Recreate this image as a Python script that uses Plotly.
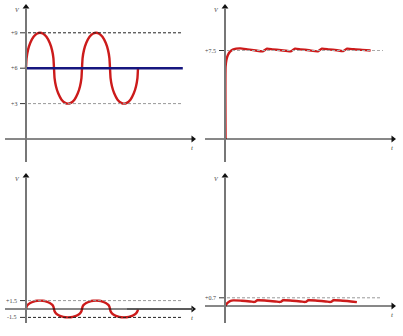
import plotly.graph_objects as go

W, H = 403, 336

# ---- data ----
# one half-cycle arc profile (fraction of half period, fraction of amplitude)
arc_frac = [0, 0.02, 0.07, 0.15, 0.27, 0.4, 0.5, 0.6, 0.73, 0.85, 0.93, 0.98, 1.0]
arc_height = [0, 0.28, 0.51, 0.71, 0.89, 0.98, 1.0, 0.98, 0.89, 0.71, 0.51, 0.28, 0]
arc_signs = [1, -1, 1, -1]

p1_offset, p1_amp = 6.0, 3.0
p1_dc = 6.0
p1_dc_end = 5.6
p1_levels = [9, 6, 3]
p1_labels = ["+9", "+6", "+3"]

p2_t = [0.02, 0.02, 0.05, 0.1, 0.18, 0.28, 0.4, 0.55, 0.8, 1.1, 1.35, 1.5, 1.7, 2.0, 2.35, 2.5,
        2.7, 3.0, 3.32, 3.46, 3.7, 4.0, 4.22, 4.36, 4.6, 4.9, 5.2]
p2_v = [0, 6.1, 6.7, 7.1, 7.4, 7.58, 7.66, 7.68, 7.6, 7.5, 7.43, 7.66, 7.6, 7.52, 7.43, 7.66,
        7.6, 7.52, 7.43, 7.66, 7.6, 7.52, 7.45, 7.66, 7.6, 7.55, 7.5]
p2_levels = [7.5]
p2_labels = ["+7.5"]

p3_offset, p3_amp = 0.0, 1.5
p3_levels = [1.5, -1.5]
p3_labels = ["+1.5", "-1.5"]

p4_t = [0, 0.08, 0.18, 0.3, 0.6, 0.9, 1.05, 1.16, 1.5, 1.8, 1.97, 2.08, 2.4, 2.7, 2.87, 2.98,
        3.3, 3.6, 3.77, 3.88, 4.2, 4.5, 4.71]
p4_v = [0, 0.25, 0.42, 0.48, 0.45, 0.39, 0.35, 0.49, 0.45, 0.39, 0.35, 0.49, 0.45, 0.39, 0.35, 0.49,
        0.45, 0.39, 0.35, 0.49, 0.45, 0.39, 0.33]
p4_levels = [0.7]
p4_labels = ["+0.7"]

# ---- panel geometry (pixels) ----
panels = {
    1: dict(box=(0, 200, 0, 168), ox=26, oy=139, sx=28, sy=11.8, ytop=5, ybot=162, xl=5, xr=195, dash_end=183),
    2: dict(box=(200, 403, 0, 168), ox=225, oy=139, sx=28, sy=11.8, ytop=5, ybot=162, xl=205, xr=395, dash_end=383),
    3: dict(box=(0, 200, 168, 336), ox=26, oy=309, sx=28, sy=5.6, ytop=174, ybot=323, xl=5, xr=195, dash_end=182),
    4: dict(box=(200, 403, 168, 336), ox=225, oy=306, sx=28, sy=11.7, ytop=174, ybot=323, xl=205, xr=395, dash_end=380),
}

def X(k, px):
    p = panels[k]
    return (px - p["ox"]) / p["sx"]

def Y(k, py):
    p = panels[k]
    return (p["oy"] - py) / p["sy"]

RED = "#cc1b1b"
BLUE = "#16167f"
TXT = "#444444"

fig = go.Figure()
layout = dict(width=W, height=H, margin=dict(l=0, r=0, t=0, b=0),
              paper_bgcolor="white", plot_bgcolor="white", showlegend=False)
shapes = []
annotations = []

for k, p in panels.items():
    x0, x1, y0, y1 = p["box"]
    sfx = "" if k == 1 else str(k)
    layout["xaxis" + sfx] = dict(domain=[x0 / W, x1 / W], range=[X(k, x0), X(k, x1)],
                                 visible=False, anchor="y" + sfx, fixedrange=True)
    layout["yaxis" + sfx] = dict(domain=[1 - y1 / H, 1 - y0 / H], range=[Y(k, y1), Y(k, y0)],
                                 visible=False, anchor="x" + sfx, fixedrange=True)

def xr(k):
    return "x" if k == 1 else "x%d" % k

def yr(k):
    return "y" if k == 1 else "y%d" % k

def add_levels(k, levels, labels, colors):
    p = panels[k]
    for lv, lb, c in zip(levels, labels, colors):
        shapes.append(dict(type="line", xref=xr(k), yref=yr(k), x0=X(k, p["ox"] - 6), x1=0,
                           y0=lv, y1=lv, line=dict(color="#333", width=1)))
        if c is not None:
            shapes.append(dict(type="line", xref=xr(k), yref=yr(k), x0=X(k, p["ox"] + 2),
                               x1=X(k, p["dash_end"]), y0=lv, y1=lv,
                               line=dict(color=c, width=1, dash="3px,2px")))
        annotations.append(dict(xref=xr(k), yref=yr(k), x=X(k, p["ox"] - 7), y=lv, text=lb,
                                showarrow=False, xanchor="right", yanchor="middle",
                                font=dict(size=6, color=TXT, family="Liberation Serif")))

add_levels(1, p1_levels, p1_labels, ["#222", None, "#999"])
add_levels(2, p2_levels, p2_labels, ["#aaa"])
add_levels(3, p3_levels, p3_labels, ["#999", "#222"])
add_levels(4, p4_levels, p4_labels, ["#999"])

# gray segment on axis in panel 3
shapes.append(dict(type="line", xref="x3", yref="y3", x0=X(3, 127), x1=X(3, 193), y0=0, y1=0,
                   line=dict(color="#8a8a8a", width=1.6)))

# axes
for k, p in panels.items():
    shapes.append(dict(type="line", xref=xr(k), yref=yr(k), x0=X(k, p["xl"]), x1=X(k, p["xr"] - 3),
                       y0=0, y1=0, line=dict(color="#111", width=1)))
    shapes.append(dict(type="line", xref=xr(k), yref=yr(k), x0=0, x1=0,
                       y0=Y(k, p["ybot"]), y1=Y(k, p["ytop"] + 3), line=dict(color="#777", width=2)))
    annotations.append(dict(xref=xr(k), yref=yr(k), x=X(k, p["ox"] - 9), y=Y(k, p["ytop"] + 5),
                            text="<i>V</i>", showarrow=False, xanchor="center", yanchor="middle",
                            font=dict(size=6, color=TXT, family="Liberation Serif")))
    annotations.append(dict(xref=xr(k), yref=yr(k), x=X(k, p["xr"] - 3), y=Y(k, p["oy"] + 9),
                            text="<i>t</i>", showarrow=False, xanchor="center", yanchor="middle",
                            font=dict(size=7, color=TXT, family="Liberation Serif")))

def arcs(offset, amp):
    ts, vs = [], []
    for i, s in enumerate(arc_signs):
        for j, (f, h) in enumerate(zip(arc_frac, arc_height)):
            if i > 0 and j == 0:
                continue
            ts.append(i + f)
            vs.append(offset + s * amp * h)
    return ts, vs

t1, v1 = arcs(p1_offset, p1_amp)
fig.add_trace(go.Scatter(x=t1, y=v1, mode="lines", xaxis="x", yaxis="y",
                         line=dict(color=RED, width=2.4, shape="spline", smoothing=0.4)))
fig.add_trace(go.Scatter(x=[0, p1_dc_end], y=[p1_dc, p1_dc], mode="lines", xaxis="x", yaxis="y",
                         line=dict(color=BLUE, width=2.6)))
fig.add_trace(go.Scatter(x=p2_t, y=p2_v, mode="lines", xaxis="x2", yaxis="y2",
                         line=dict(color=RED, width=2.4, shape="spline", smoothing=0.5)))
t3, v3 = arcs(p3_offset, p3_amp)
fig.add_trace(go.Scatter(x=t3, y=v3, mode="lines", xaxis="x3", yaxis="y3",
                         line=dict(color=RED, width=2.4, shape="spline", smoothing=0.4)))
fig.add_trace(go.Scatter(x=p4_t, y=p4_v, mode="lines", xaxis="x4", yaxis="y4",
                         line=dict(color=RED, width=2.4, shape="spline", smoothing=0.7)))

for k, p in panels.items():
    fig.add_trace(go.Scatter(x=[X(k, p["xr"] - 2)], y=[0], mode="markers", xaxis=xr(k), yaxis=yr(k),
                             marker=dict(symbol="triangle-right", size=6, color="#111", line=dict(width=0)),
                             hoverinfo="skip"))
    fig.add_trace(go.Scatter(x=[0], y=[Y(k, p["ytop"] + 2)], mode="markers", xaxis=xr(k), yaxis=yr(k),
                             marker=dict(symbol="triangle-up", size=6, color="#111", line=dict(width=0)),
                             hoverinfo="skip"))

layout["shapes"] = shapes
layout["annotations"] = annotations
fig.update_layout(**layout)
fig.write_html("out.html")
